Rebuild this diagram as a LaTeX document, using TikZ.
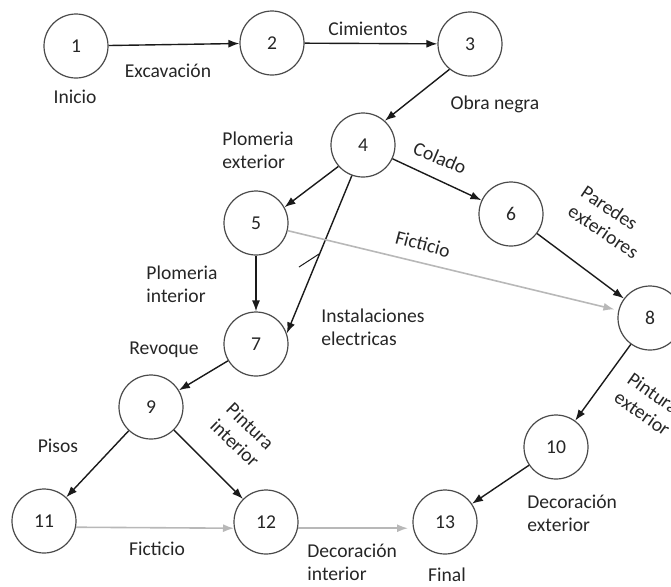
\documentclass[tikz,border=0pt]{standalone}
\usepackage{fontspec}
\setmainfont{Carlito}
\usetikzlibrary{arrows.meta}
\definecolor{EventRim}{HTML}{4A4A4A}
\definecolor{InkLine}{HTML}{1A1A1A}
\definecolor{InkText}{HTML}{262626}
\definecolor{DummyGray}{HTML}{B8B8B8}
\newcommand{\LabelFont}{\fontsize{9.8pt}{11.5pt}\selectfont}

\begin{document}
\begin{tikzpicture}[x=0.5pt, y=-0.5pt,
  evento/.style={circle, draw=EventRim, line width=0.6pt, minimum size=32pt,
    inner sep=0pt, font=\LabelFont, text=InkText},
  actividad/.style={draw=InkLine, line width=0.7pt, -{Latex[length=5.5pt,width=4pt]}},
  ficticia/.style={draw=DummyGray, line width=0.8pt, -{Latex[length=5.5pt,width=4pt]}},
  etiqueta/.style={inner sep=0pt, font=\LabelFont, text=InkText}]
  \clip (0,0) rectangle (671,586);
  % events of the network
  \node[evento] (n1)  at (76,46)   {1};
  \node[evento] (n2)  at (272,43)  {2};
  \node[evento] (n3)  at (470,44)  {3};
  \node[evento] (n4)  at (363,145) {4};
  \node[evento] (n5)  at (256,223) {5};
  \node[evento] (n6)  at (511,214) {6};
  \node[evento] (n7)  at (256,344) {7};
  \node[evento] (n8)  at (650,318) {8};
  \node[evento] (n9)  at (151,407) {9};
  \node[evento] (n10) at (556,447) {10};
  \node[evento] (n11) at (44,521)  {11};
  \node[evento] (n12) at (266,522) {12};
  \node[evento] (n13) at (445,522) {13};
  % activities
  \draw[actividad] (n1) -- (n2);
  \draw[actividad] (n2) -- (n3);
  \draw[actividad] (n3.231) -- (n4.48);
  \draw[actividad] (n4.221) -- (n5.29);
  \draw[actividad] (n4.250) -- (n7.19);
  \draw[actividad] (n4) -- (n6);
  \draw[actividad] (n5) -- (n7);
  \draw[actividad] (n6) -- (n8);
  \draw[actividad] (n7) -- (n9);
  \draw[actividad] (n8) -- (n10);
  \draw[actividad] (n9) -- (n11);
  \draw[actividad] (n9) -- (n12);
  \draw[actividad] (n10) -- (n13);
  % dummy activities (grey)
  \draw[ficticia, shorten >=2pt] (n5) -- (n8);
  \draw[ficticia] (n11.-11) -- (n12.191);
  \draw[ficticia, shorten >=2.5pt] (n12.-11) -- (n13.191);
  % small tick across 4-7
  \draw[InkLine, line width=0.5pt] (299,267) -- (319,254);
  % activity names
  \node[etiqueta] (tInicio) at (75,97) {Inicio};
  \node[etiqueta] (tExcav) at (168,71) {Excavación};
  \node[etiqueta] (tCim) at (368,29) {Cimientos};
  \node[etiqueta] (tObra) at (495,104) {Obra negra};
  \node[etiqueta, anchor=west, align=left] (tPloExt) at (222,150) {Plomeria\\exterior};
  \node[etiqueta, rotate=-23] (tColado) at (440,158) {Colado};
  \node[etiqueta, rotate=-34, align=left] (tParedes) at (610,222) {Paredes\\exteriores};
  \node[etiqueta, rotate=-15] (tFict1) at (423,244) {Ficticio};
  \node[etiqueta, anchor=west, align=left] (tPloInt) at (146,284) {Plomeria\\interior};
  \node[etiqueta, anchor=west, align=left] (tInst) at (321,327) {Instalaciones\\electricas};
  \node[etiqueta] (tRevoque) at (164,350) {Revoque};
  \node[etiqueta] (tPisos) at (58,446) {Pisos};
  \node[etiqueta, rotate=-44, align=left] (tPintInt) at (243,435) {Pintura\\interior};
  \node[etiqueta, rotate=-35, align=left] (tPintExt) at (649,404) {Pintura\\exterior};
  \node[etiqueta] (tFict2) at (157,549) {Ficticio};
  \node[etiqueta, anchor=west, align=left] (tDecInt) at (307,562) {Decoración\\interior};
  \node[etiqueta] (tFinal) at (447,575) {Final};
  \node[etiqueta, anchor=west, align=left] (tDecExt) at (527,513) {Decoración\\exterior};
\end{tikzpicture}
\end{document}
